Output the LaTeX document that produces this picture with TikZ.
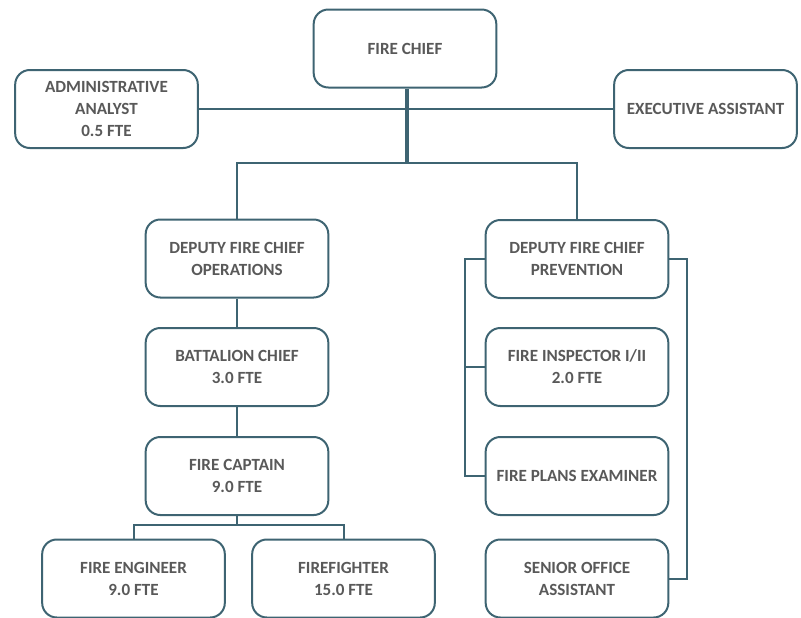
\documentclass[tikz,border=0pt]{standalone}
\usepackage{fontspec}
\setmainfont{Carlito}
\usepackage{tikz}
\usetikzlibrary{calc}

\definecolor{boxline}{RGB}{62,100,114}
\definecolor{boxtext}{RGB}{89,89,89}

\tikzset{
  orgbox/.style={draw=boxline, line width=1.5, rounded corners=11pt, fill=white,
    minimum width=137pt, minimum height=58.5pt, inner sep=0pt, align=center,
    text=boxtext, font=\fontsize{12.8}{16.5}\selectfont\bfseries},
  link/.style={draw=boxline, line width=1.5},
  trunk/.style={draw=boxline, line width=3}
}

\begin{document}
\begin{tikzpicture}[x=0.75pt,y=0.75pt,yscale=-1]
    \useasboundingbox (0,0) rectangle (801,618);
    %Rounded Rect: top row
    \node [orgbox] (chief) at (405,48.5) {FIRE CHIEF};
    \node [orgbox] (analyst) at (106.5,109) {ADMINISTRATIVE\\ANALYST\\0.5 FTE};
    \node [orgbox] (execassist) at (705.5,109) {EXECUTIVE ASSISTANT};
    %Rounded Rect: operations column
    \node [orgbox] (depops) at (237,258.5) {DEPUTY FIRE CHIEF\\OPERATIONS};
    \node [orgbox] (battalion) at (237,367) {BATTALION CHIEF\\3.0 FTE};
    \node [orgbox] (captain) at (237,476) {FIRE CAPTAIN\\9.0 FTE};
    \node [orgbox] (engineer) at (133.5,578.5) {FIRE ENGINEER\\9.0 FTE};
    \node [orgbox] (firefighter) at (343.5,578.5) {FIREFIGHTER\\15.0 FTE};
    %Rounded Rect: prevention column
    \node [orgbox] (depprev) at (577,259) {DEPUTY FIRE CHIEF\\PREVENTION};
    \node [orgbox] (inspector) at (577,367) {FIRE INSPECTOR I/II\\2.0 FTE};
    \node [orgbox] (plans) at (577,476) {FIRE PLANS EXAMINER};
    \node [orgbox] (senior) at (577,578.5) {SENIOR OFFICE\\ASSISTANT};
    %Straight Lines: junctions
    \coordinate (topbus) at (407,163);
    \coordinate (capbus) at (237,525);
    \coordinate (leftrail) at (465,259);
    \coordinate (rightrail) at (687,259);
    %Straight Lines: staff and deputies
    \draw [link] (analyst.east) -- (execassist.west);
    \draw [link] (depops.north) |- (topbus) -| (depprev.north);
    \draw [trunk] (chief.south -| topbus) -- (topbus);
    %Straight Lines: operations
    \draw [link] (depops) -- (battalion);
    \draw [link] (battalion) -- (captain);
    \draw [link] (captain.south) -- (capbus);
    \draw [link] (engineer.north) |- (capbus) -| (firefighter.north);
    %Straight Lines: prevention
    \draw [link] (depprev.west) -- (leftrail) |- (plans.west);
    \draw [link] (inspector.west) -- (inspector.west -| leftrail);
    \draw [link] (depprev.east) -- (rightrail) |- (senior.east);
\end{tikzpicture}
\end{document}
